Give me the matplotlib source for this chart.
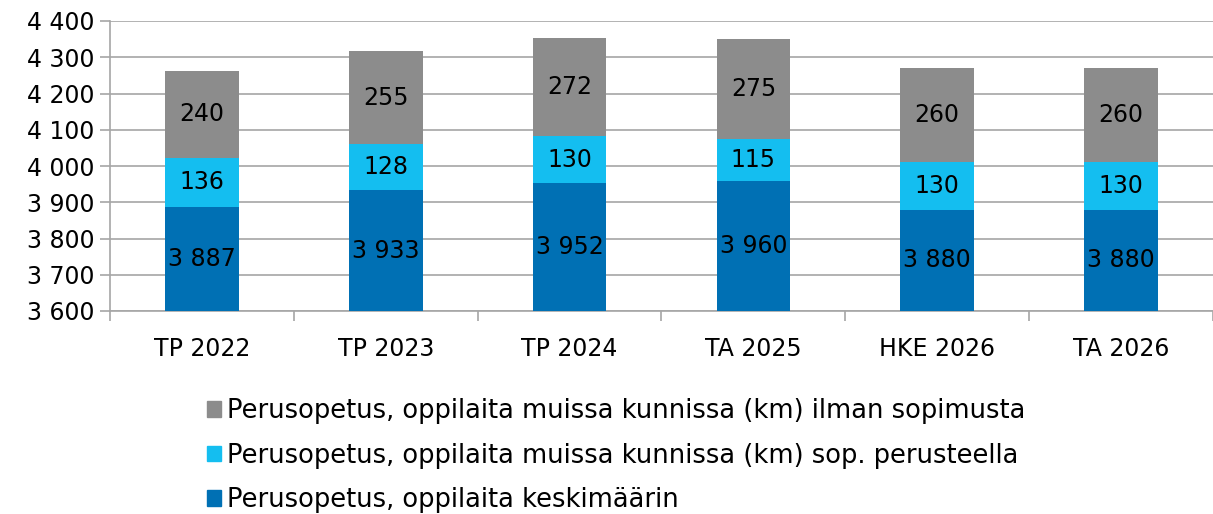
import numpy as np
import matplotlib.pyplot as plt
from matplotlib.patches import Patch

categories = ['TP 2022', 'TP 2023', 'TP 2024', 'TA 2025', 'HKE 2026', 'TA 2026']
keskimaarin = [3887, 3933, 3952, 3960, 3880, 3880]
sop_perusteella = [136, 128, 130, 115, 130, 130]
ilman_sopimusta = [240, 255, 272, 275, 260, 260]

names = ['Perusopetus, oppilaita keskimäärin',
         'Perusopetus, oppilaita muissa kunnissa (km) sop. perusteella',
         'Perusopetus, oppilaita muissa kunnissa (km) ilman sopimusta']
colors = ['#0070b4', '#14bef0', '#8c8c8c']

plt.rcParams['font.family'] = ['DejaVu Sans']
FS = 17

def fmt(v):
    return f'{v:,}'.replace(',', ' ')

fig = plt.figure(figsize=(12.13, 5.14), dpi=100)
ax = fig.add_axes([110 / 1213, 1 - 311 / 514, 1 - 110 / 1213, 290 / 514])

x = np.arange(len(categories))
ymin, ymax = 3600, 4400
w = 0.4
series = [keskimaarin, sop_perusteella, ilman_sopimusta]
bottom = np.zeros(len(categories))
for vals, col in zip(series, colors):
    vals = np.array(vals)
    ax.bar(x, vals, w, bottom=bottom, color=col, zorder=3)
    for xi, b, v in zip(x, bottom, vals):
        lo = max(b, ymin)
        ax.text(xi, (lo + b + v) / 2, fmt(int(v)), ha='center', va='center',
                fontsize=FS, color='black', zorder=4)
    bottom = bottom + vals

ax.set_ylim(ymin, ymax)
ax.set_xlim(-0.5, 5.43)
ax.set_yticks(np.arange(3600, 4401, 100))
ax.set_yticklabels([fmt(v) for v in range(3600, 4401, 100)], fontsize=FS)
ax.yaxis.grid(True, color='#a6a6a6', linewidth=1.2, zorder=0)
ax.set_xticks(x)
ax.set_xticklabels(categories, fontsize=FS)
ax.set_xticks(np.arange(-0.5, 5.6, 1), minor=True)
ax.tick_params(axis='x', which='major', length=0, pad=19)
ax.tick_params(axis='x', which='minor', length=7, color='#a6a6a6', width=1.2)
ax.tick_params(axis='y', length=7, color='#a6a6a6', width=1.2, pad=4)
for s in ['top', 'right']:
    ax.spines[s].set_visible(False)
for s in ['left', 'bottom']:
    ax.spines[s].set_color('#a6a6a6')
    ax.spines[s].set_linewidth(1.2)

handles = [Patch(color=c) for c in colors][::-1]
fig.legend(handles, names[::-1], loc='upper left', bbox_to_anchor=(197 / 1213, 1 - 388 / 514),
           frameon=False, fontsize=18.5, handlelength=0.55, handleheight=0.55,
           handletextpad=0.2, labelspacing=0.72, borderaxespad=0)

fig.savefig('out.png', dpi=100)
